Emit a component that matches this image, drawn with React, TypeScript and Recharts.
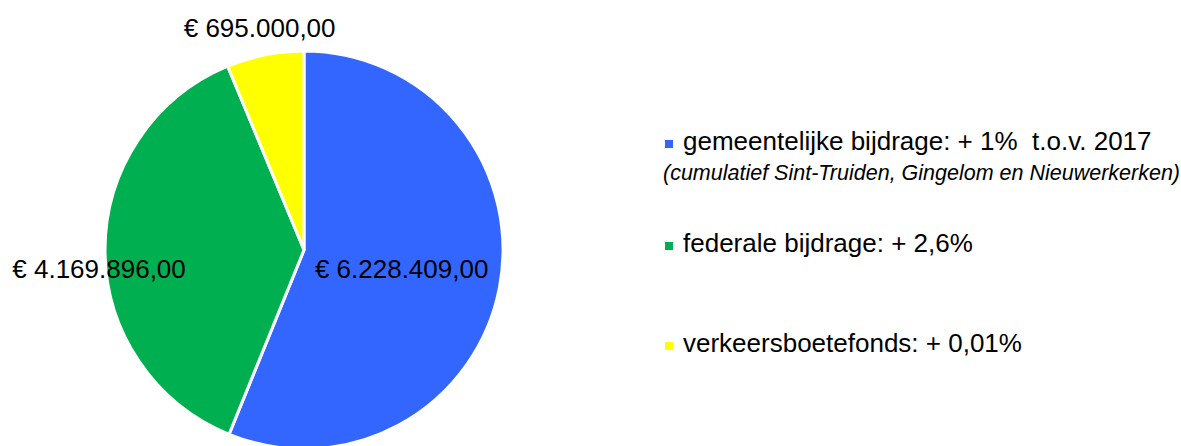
import { PieChart, Pie, Cell, Legend } from "recharts";

const categories = [
	"gemeentelijke bijdrage: + 1%  t.o.v. 2017",
	"federale bijdrage: + 2,6%",
	"verkeersboetefonds: + 0,01%",
];
const amounts = [6228409, 4169896, 695000];
const notes = ["(cumulatief Sint-Truiden, Gingelom en Nieuwerkerken)", "", ""];
const colors = ["#3366FF", "#00B050", "#FFFF00"];

const data = categories.map((name, i) => ({ name, value: amounts[i] }));

// label placement per slice: radius factor and vertical nudge
const labelRadius = [0.5, 1.03, 1.14];
const labelNudge = [0, 18, 0];
const legendRowTop = [126, 228, 328];

const FONT = "'Liberation Sans', Arial, sans-serif";
const RADIAN = Math.PI / 180;

function euro(v: number) {
	const int = Math.floor(v)
		.toString()
		.replace(/\B(?=(\d{3})+(?!\d))/g, ".");
	return `€ ${int},00`;
}

function renderLabel(props: any) {
	const { cx, cy, midAngle, outerRadius, index, value } = props;
	const r = outerRadius * labelRadius[index];
	const x = cx + r * Math.cos(-midAngle * RADIAN);
	const y = cy + r * Math.sin(-midAngle * RADIAN) + labelNudge[index];
	return (
		<text
			x={x}
			y={y}
			dy="0.35em"
			textAnchor="middle"
			fill="#000"
			fontSize={26}
			fontFamily={FONT}
		>
			{euro(value)}
		</text>
	);
}

// legend keeps the category order (recharts sorts payload by default)
function renderLegend() {
	return (
		<div style={{ position: "relative", width: 526, height: 446, fontFamily: FONT }}>
			{categories.map((name, i) => (
				<div key={name} style={{ position: "absolute", left: 0, top: legendRowTop[i] }}>
					<div
						style={{
							position: "absolute",
							left: 10,
							top: 14,
							width: 8,
							height: 8,
							background: colors[i],
						}}
					/>
					<div
						style={{
							position: "absolute",
							left: 28,
							top: 0,
							fontSize: 26,
							lineHeight: "30px",
							whiteSpace: "pre",
							color: "#000",
						}}
					>
						{name}
					</div>
					{notes[i] && (
						<div
							style={{
								position: "absolute",
								left: 8,
								top: 35,
								fontSize: 21.5,
								lineHeight: "24px",
								fontStyle: "italic",
								whiteSpace: "pre",
								color: "#000",
							}}
						>
							{notes[i]}
						</div>
					)}
				</div>
			))}
		</div>
	);
}

export default function App() {
	return (
		<div style={{ width: 1181, height: 446, background: "#fff" }}>
			<style>{"body{margin:0}"}</style>
			<PieChart
				width={1181}
				height={446}
				margin={{ top: 0, right: 0, bottom: 0, left: 0 }}
			>
				<Pie
					data={data}
					dataKey="value"
					nameKey="name"
					cx={304}
					cy={250}
					outerRadius={199}
					startAngle={90}
					endAngle={-270}
					stroke="#fff"
					strokeWidth={3}
					label={renderLabel}
					labelLine={false}
					isAnimationActive={false}
				>
					{data.map((d, i) => (
						<Cell key={d.name} fill={colors[i]} />
					))}
				</Pie>
				<Legend
					content={renderLegend}
					wrapperStyle={{ left: 655, top: 0, width: 526, height: 446 }}
				/>
			</PieChart>
		</div>
	);
}
